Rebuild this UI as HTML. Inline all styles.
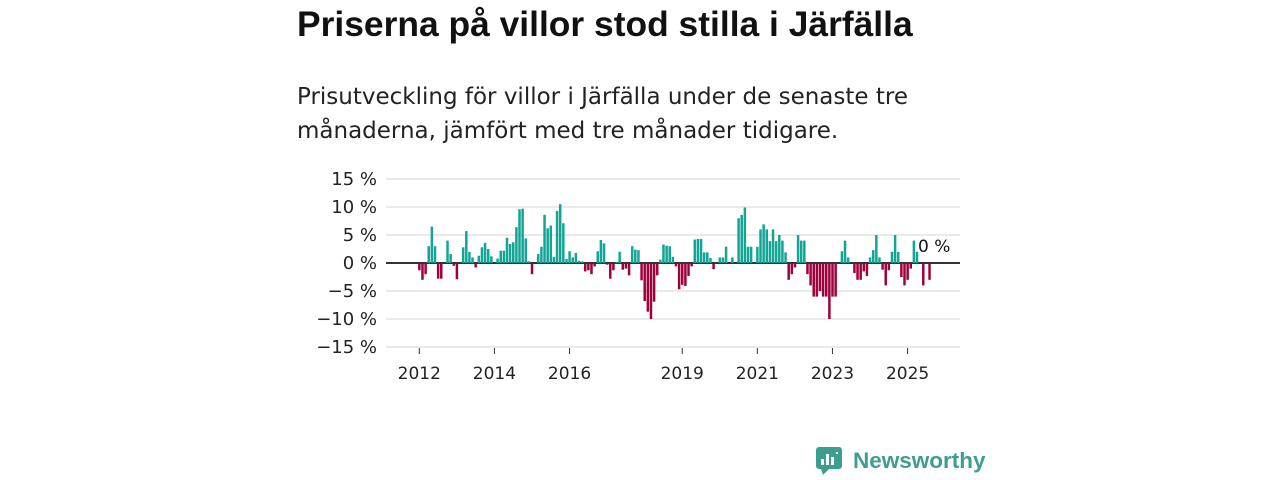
<!DOCTYPE html>
<html><head><meta charset="utf-8"><style>
body{margin:0;width:1280px;height:480px;background:#fff;font-family:"Liberation Sans","DejaVu Sans",sans-serif;overflow:hidden;position:relative}
h1{position:absolute;left:297px;top:4px;margin:0;font-size:35.4px;font-weight:bold;color:#111;font-family:"Liberation Sans","DejaVu Sans",sans-serif}
p{position:absolute;left:297px;top:80px;margin:0;font-size:23px;line-height:34px;color:#222;font-family:"DejaVu Sans","Liberation Sans",sans-serif;width:680px}
svg{position:absolute;left:0;top:0}
</style></head><body>
<h1>Priserna på villor stod stilla i Järfälla</h1>
<p>Prisutveckling för villor i Järfälla under de senaste tre månaderna, jämfört med tre månader tidigare.</p>
<svg id="chart" width="1280" height="480"></svg>
<script>
const yTicks=[15,10,5,0,-5,-10,-15];
const yTickLabels=["15 %","10 %","5 %","0 %","−5 %","−10 %","−15 %"];
const yearTicks=[2012,2014,2016,2019,2021,2023,2025];
const startYear=2012;
const values=[-1.3,-3,-2,3,6.5,3,-2.8,-2.8,0,4,1.6,-0.5,
-2.9,0,2.8,5.7,2,1,-0.8,1.3,2.8,3.6,2.5,1.2,
0,0.8,2.2,2.2,4.5,3.4,3.7,6.4,9.6,9.7,4.4,0.3,
-2,0,1.6,2.9,8.6,6.2,6.7,1.1,9.3,10.5,7.1,0.7,
2.1,1,1.8,0.4,0.3,-1.5,-1.3,-2,-0.6,2.1,4.1,3.5,
-0.3,-2.8,-1.3,0.2,2,-1.2,-1,-2.2,3,2.4,2.3,-3.1,
-6.8,-8.7,-10,-6.9,-2.2,0.6,3.3,3.1,3,1.1,-0.6,-4.7,
-3.9,-4.1,-2.3,-0.6,4.2,4.3,4.3,1.9,1.9,0.9,-1.1,0,
1,1,2.9,0,1,0,8,8.6,9.9,2.9,2.9,0,
2.9,6,6.9,6,3.9,6,3.9,5,4,1.9,-3,-2,
-0.8,5,4,4,-2,-4,-6,-6,-5,-6,-6,-10,
-6,-6,0,2.1,4,1,0,-1.8,-3,-3,-1.5,-2.3,
1,2.3,5,1,-1.2,-4,-1.3,2,5,2,-2.5,-4,
-3,-1,4,2,0,-4,0,-3];
const NS="http://www.w3.org/2000/svg";
const svg=document.getElementById('chart');
const x0=419.3,mw=3.13;
function xs(i){return x0+mw*i;}
function xy(year){return x0+mw*12*(year-startYear);}
function ys(v){return 263-5.6*v;}
function mk(t,a){const e=document.createElementNS(NS,t);for(const k in a)e.setAttribute(k,a[k]);svg.appendChild(e);return e;}
yTicks.forEach((t,k)=>{
 const g=mk('line',{x1:386,x2:960,y1:ys(t),y2:ys(t),stroke:t===0?'#333':'#ddd','stroke-width':t===0?2:1.3});
 
 
 const tx=mk('text',{x:377,y:ys(t)+6,'text-anchor':'end','font-size':18,fill:'#222','font-family':'"DejaVu Sans","Liberation Sans",sans-serif'});
 tx.textContent=yTickLabels[k];
 
 
});
yearTicks.forEach(y=>{
 const tk=mk('line',{x1:xy(y),x2:xy(y),y1:348,y2:354,stroke:'#333','stroke-width':1});
 
 
 const tx=mk('text',{x:xy(y),y:379,'text-anchor':'middle','font-size':17,fill:'#222','font-family':'"DejaVu Sans","Liberation Sans",sans-serif'});
 tx.textContent=y;
 
 
});
values.forEach((v,i)=>{
 if(v===0)return;
 const top=Math.min(ys(v),ys(0)),h=Math.abs(ys(v)-ys(0));
 const r=mk('rect',{x:xs(i)-1.2,y:top,width:2.5,height:h,fill:v>0?'#12a595':'#a0003c'});
 
 
});
const lab=mk('text',{x:918,y:252,'font-size':17,fill:'#111','font-family':'"DejaVu Sans","Liberation Sans",sans-serif'});
lab.textContent="0 %";


</script>
<div style="position:absolute;left:815px;top:446px;height:30px;display:flex;align-items:center">
<svg width="28" height="30" style="position:static"><rect x="1" y="1" width="26" height="22" rx="3" fill="#3e9d91"/><polygon points="6,23 14,23 8,29" fill="#3e9d91"/><rect x="6" y="13" width="3" height="6" fill="#fff"/><rect x="11" y="8" width="3" height="11" fill="#fff"/><rect x="16" y="11" width="3" height="8" fill="#fff"/><rect x="21" y="6" width="2" height="2" fill="#fff"/></svg>
<span style="margin-left:10px;font-size:22.5px;font-weight:bold;color:#3e9d91;font-family:'Liberation Sans','DejaVu Sans',sans-serif">Newsworthy</span>
</div>
</body></html>
